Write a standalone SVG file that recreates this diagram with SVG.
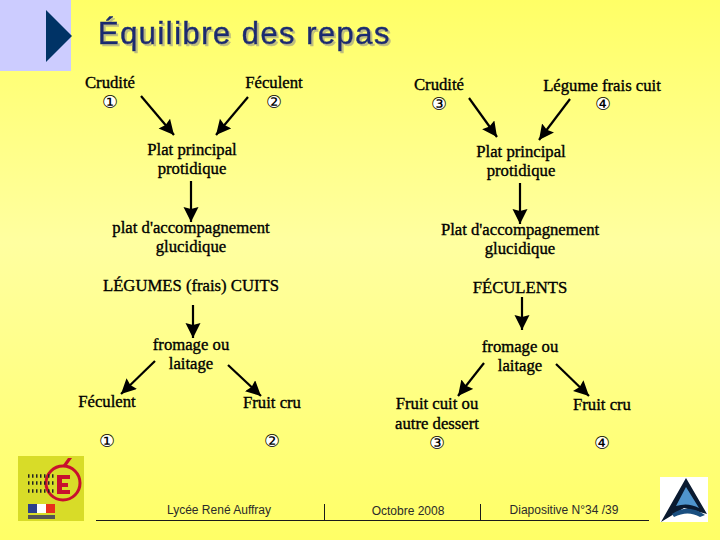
<svg xmlns="http://www.w3.org/2000/svg" width="720" height="540" viewBox="0 0 720 540">
<defs>
<linearGradient id="bg" x1="0" y1="0" x2="0" y2="1"><stop offset="0" stop-color="#ffff66"/><stop offset="0.45" stop-color="#ffffa0"/><stop offset="1" stop-color="#ffff66"/></linearGradient>
<marker id="ah" markerUnits="userSpaceOnUse" markerWidth="16" markerHeight="16" refX="15" refY="7.500" orient="auto"><path d="M0,0L15,7.500L0,15L2,7.500Z" fill="#000"/></marker>
<filter id="sh" x="-5%" y="-20%" width="110%" height="140%"><feDropShadow dx="2" dy="2" stdDeviation="0.500" flood-color="#bdbd80"/></filter>
</defs>
<style>
.t{font-family:"Liberation Serif","Times New Roman",serif;font-size:16.7px;fill:#000;text-anchor:middle;stroke:#000;stroke-width:.35}
.n{font-family:"DejaVu Sans",sans-serif;font-size:18px;fill:#000;text-anchor:middle}
.d{fill:#fff}
.f{font-family:"Liberation Sans",Arial,sans-serif;font-size:12px;fill:#2a2a2a;text-anchor:middle}
.c line{stroke:#000;stroke-width:2.2;marker-end:url(#ah)}
.r line{stroke:#1a1a1a;stroke-width:1}
</style>
<rect width="720" height="540" fill="url(#bg)"/>
<g id="header">
<rect width="71" height="71" fill="#ccccff"/>
<path d="M46,10L72,36L46,62Z" fill="#003366"/>
<text x="98" y="44" font-family="Liberation Sans,Arial,sans-serif" font-size="31" letter-spacing="1.450" fill="#1a2a70" stroke="#1a2a70" stroke-width=".5" filter="url(#sh)">Équilibre des repas</text>
</g>
<g class="c" id="connectors">
<line x1="141" y1="96" x2="174" y2="135"/>
<line x1="248" y1="97" x2="216" y2="135"/>
<line x1="191" y1="181" x2="191" y2="222"/>
<line x1="193" y1="305" x2="193" y2="338"/>
<line x1="155" y1="361" x2="121" y2="394"/>
<line x1="228" y1="365" x2="261" y2="396"/>
<line x1="469" y1="98" x2="497" y2="137"/>
<line x1="570" y1="99" x2="539" y2="140"/>
<line x1="520" y1="183" x2="520" y2="224"/>
<line x1="522" y1="297" x2="522" y2="330"/>
<line x1="484" y1="363" x2="458" y2="396"/>
<line x1="556" y1="364" x2="589" y2="396"/>
</g>
<g id="left-chart">
<text class="t" x="110" y="88">Crudité</text><circle class="d" cx="110" cy="102" r="6"/><text class="n" x="110" y="108">①</text>
<text class="t" x="274" y="88">Féculent</text><circle class="d" cx="274" cy="102" r="6"/><text class="n" x="274" y="108">②</text>
<text class="t" x="192" y="155">Plat principal</text><text class="t" x="192" y="174">protidique</text>
<text class="t" x="191" y="233">plat d'accompagnement</text><text class="t" x="191" y="252">glucidique</text>
<text class="t" x="191" y="291">LÉGUMES (frais) CUITS</text>
<text class="t" x="191" y="350">fromage ou</text><text class="t" x="191" y="369">laitage</text>
<text class="t" x="107" y="407">Féculent</text><text class="t" x="272" y="408">Fruit cru</text>
<circle class="d" cx="107" cy="441" r="6"/><text class="n" x="107" y="447">①</text><circle class="d" cx="272" cy="441" r="6"/><text class="n" x="272" y="447">②</text>
</g>
<g id="right-chart">
<text class="t" x="439" y="90">Crudité</text><circle class="d" cx="439" cy="104" r="6"/><text class="n" x="439" y="110">③</text>
<text class="t" x="602" y="91">Légume frais cuit</text><circle class="d" cx="603" cy="104" r="6"/><text class="n" x="603" y="110">④</text>
<text class="t" x="521" y="157">Plat principal</text><text class="t" x="521" y="176">protidique</text>
<text class="t" x="520" y="235">Plat d'accompagnement</text><text class="t" x="520" y="254">glucidique</text>
<text class="t" x="520" y="293">FÉCULENTS</text>
<text class="t" x="520" y="352">fromage ou</text><text class="t" x="520" y="371">laitage</text>
<text class="t" x="437" y="409">Fruit cuit ou</text><text class="t" x="437" y="429">autre dessert</text>
<text class="t" x="602" y="410">Fruit cru</text>
<circle class="d" cx="437" cy="443" r="6"/><text class="n" x="437" y="449">③</text><circle class="d" cx="602" cy="443" r="6"/><text class="n" x="602" y="449">④</text>
</g>
<g id="logo-left">
<rect x="18" y="456" width="66" height="65" fill="#d8dc28"/>
<circle cx="63" cy="483" r="17" fill="none" stroke="#c8102e" stroke-width="3"/>
<path d="M57,475H70V479H62V483H68V487H62V490H70V494H57Z" fill="#c8102e"/>
<path d="M63,465L68,458H72L67,465Z" fill="#c8102e"/>
<rect x="28" y="504" width="9" height="9" fill="#2b3f8c"/><rect x="37" y="504" width="9" height="9" fill="#fff"/><rect x="46" y="504" width="9" height="9" fill="#e8301c"/>
<path d="M28,476H55M28,483H55M28,491H55" stroke="#222" stroke-width="3.500" stroke-dasharray="1.500 2.500"/>
<path d="M28,517H55" stroke="#555" stroke-width="4"/>
</g>
<g id="footer">
<g class="r"><line x1="96" y1="520.500" x2="649" y2="520.500"/><line x1="324.500" y1="504" x2="324.500" y2="520"/><line x1="480.500" y1="504" x2="480.500" y2="520"/></g>
<text class="f" x="219" y="514">Lycée René Auffray</text>
<text class="f" x="408" y="515">Octobre 2008</text>
<text class="f" x="564" y="514">Diapositive N°34 /39</text>
</g>
<g id="logo-right">
<rect x="660" y="477" width="48" height="45" fill="#fff"/>
<path d="M661,522L686,478L707,514L684,508Z" fill="#0a1a30"/>
<path d="M676,506L686,487L699,508Q688,502 676,506Z" fill="#4f94cc"/>
<path d="M672,514Q688,503 705,515L700,517Q688,510 674,517Z" fill="#1a4f80"/>
</g>
</svg>
